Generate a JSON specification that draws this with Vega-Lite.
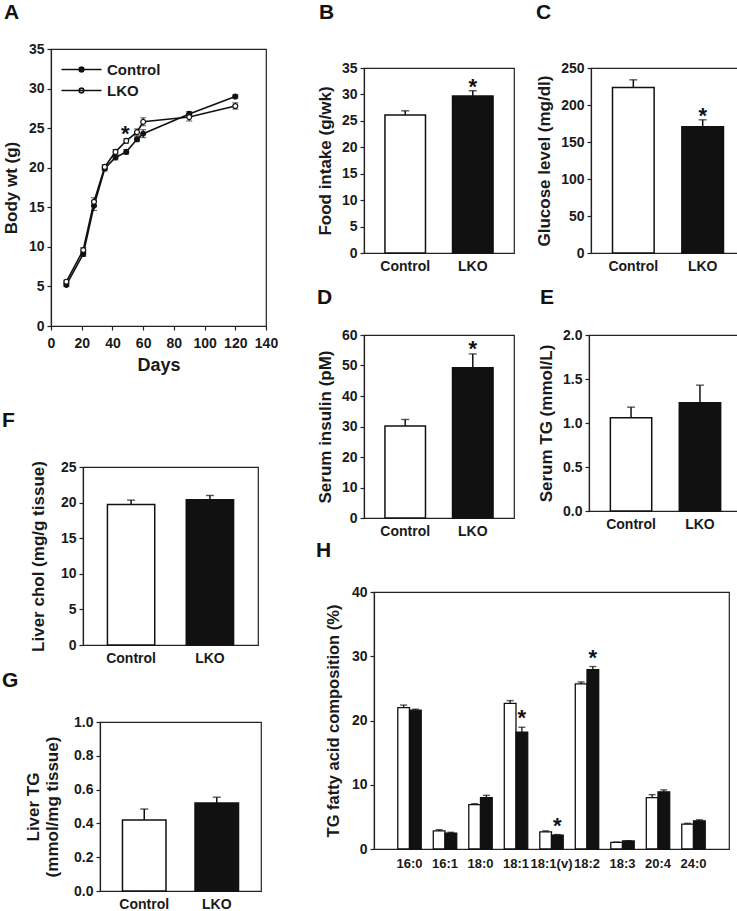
{
  "$schema": "https://vega.github.io/schema/vega-lite/v6.json",
  "background": "white",
  "padding": {"left": 0, "top": 0, "right": 0, "bottom": 0},
  "config": {
    "font": "Liberation Sans",
    "view": {"stroke": "#222", "strokeWidth": 1.2},
    "axis": {"grid": false, "domainColor": "#222", "domainWidth": 1.2, "tickColor": "#222", "tickWidth": 1.2, "tickSize": 4, "labelFont": "Liberation Sans", "labelFontSize": 14, "labelFontWeight": "bold", "labelColor": "#1a1a1a", "labelPadding": 3, "labelOverlap": false, "labelFlush": false, "labelBound": false, "titleFont": "Liberation Sans", "titleFontSize": 17, "titleFontWeight": "bold", "titleColor": "#1a1a1a", "titlePadding": 7},
    "title": {"font": "Liberation Sans", "fontSize": 21, "fontWeight": "bold", "color": "#111", "anchor": "start", "frame": "group"},
    "tick": {"thickness": 1.4}
  },
  "resolve": {"scale": {"fill": "independent"}, "legend": {"fill": "independent"}},
  "spacing": 35,
  "hconcat": [
    {
      "spacing": 0,
      "resolve": {"scale": {"fill": "independent"}, "legend": {"fill": "independent"}},
      "vconcat": [
        {"width": 0.01, "height": 0.01, "view": {"stroke": null}, "data": {"values": []}, "mark": "point"},
        {
          "spacing": 34,
          "resolve": {"scale": {"fill": "independent"}, "legend": {"fill": "independent"}},
          "vconcat": [
            {
              "spacing": 0,
              "resolve": {"scale": {"fill": "independent"}, "legend": {"fill": "independent"}},
              "hconcat": [
                {"width": 0.01, "height": 0.01, "view": {"stroke": null}, "data": {"values": []}, "mark": "point"},
                {
                  "width": 215, "height": 277,
                  "title": {"text": "A", "dx": -47, "offset": 19},
                  "data": {"values": [
                    {"day": 10, "group": "Control", "value": 5.2, "lo": 5.0, "hi": 5.4},
                    {"day": 21, "group": "Control", "value": 9.1, "lo": 8.8, "hi": 9.4},
                    {"day": 28, "group": "Control", "value": 15.2, "lo": 14.6, "hi": 15.8},
                    {"day": 35, "group": "Control", "value": 19.9, "lo": 19.6, "hi": 20.2},
                    {"day": 42, "group": "Control", "value": 21.3, "lo": 21.0, "hi": 21.6},
                    {"day": 49, "group": "Control", "value": 22.0, "lo": 21.7, "hi": 22.3},
                    {"day": 56, "group": "Control", "value": 23.6, "lo": 23.3, "hi": 23.9},
                    {"day": 60, "group": "Control", "value": 24.3, "lo": 23.8, "hi": 24.8},
                    {"day": 90, "group": "Control", "value": 26.8, "lo": 26.5, "hi": 27.1},
                    {"day": 120, "group": "Control", "value": 29.0, "lo": 28.8, "hi": 29.2},
                    {"day": 10, "group": "LKO", "value": 5.6, "lo": 5.4, "hi": 5.8},
                    {"day": 21, "group": "LKO", "value": 9.6, "lo": 9.3, "hi": 9.9},
                    {"day": 28, "group": "LKO", "value": 15.7, "lo": 15.2, "hi": 16.2},
                    {"day": 35, "group": "LKO", "value": 20.1, "lo": 19.8, "hi": 20.4},
                    {"day": 42, "group": "LKO", "value": 22.0, "lo": 21.7, "hi": 22.3},
                    {"day": 49, "group": "LKO", "value": 23.4, "lo": 23.1, "hi": 23.7, "star": "*"},
                    {"day": 56, "group": "LKO", "value": 24.5, "lo": 24.1, "hi": 24.9},
                    {"day": 60, "group": "LKO", "value": 25.8, "lo": 25.3, "hi": 26.3},
                    {"day": 90, "group": "LKO", "value": 26.4, "lo": 25.9, "hi": 26.9},
                    {"day": 120, "group": "LKO", "value": 27.8, "lo": 27.4, "hi": 28.2}
                  ]},
                  "encoding": {
                    "x": {"field": "day", "type": "quantitative", "scale": {"domain": [0, 140], "nice": false}, "axis": {"title": "Days", "titleFontSize": 18, "values": [0, 20, 40, 60, 80, 100, 120, 140], "labelPadding": 6, "titlePadding": 6}}
                  },
                  "layer": [
                    {"mark": {"type": "line", "color": "#111", "strokeWidth": 1.6},
                     "encoding": {"y": {"field": "value", "type": "quantitative", "scale": {"domain": [0, 35], "nice": false}, "axis": {"title": "Body wt (g)", "titlePadding": 8, "values": [0, 5, 10, 15, 20, 25, 30, 35]}}, "detail": {"field": "group"}}},
                    {"mark": {"type": "rule", "color": "#111", "strokeWidth": 1},
                     "encoding": {"y": {"field": "lo", "type": "quantitative", "axis": {"title": "Body wt (g)", "titlePadding": 8, "values": [0, 5, 10, 15, 20, 25, 30, 35]}}, "y2": {"field": "hi"}}},
                    {"mark": {"type": "tick", "orient": "horizontal", "color": "#111", "size": 6, "thickness": 1},
                     "encoding": {"y": {"field": "hi", "type": "quantitative", "axis": {"title": "Body wt (g)", "titlePadding": 8, "values": [0, 5, 10, 15, 20, 25, 30, 35]}}}},
                    {"mark": {"type": "tick", "orient": "horizontal", "color": "#111", "size": 6, "thickness": 1},
                     "encoding": {"y": {"field": "lo", "type": "quantitative", "axis": {"title": "Body wt (g)", "titlePadding": 8, "values": [0, 5, 10, 15, 20, 25, 30, 35]}}}},
                    {"mark": {"type": "point", "shape": "circle", "filled": true, "stroke": "#111", "strokeWidth": 1.2, "size": 24, "opacity": 1},
                     "encoding": {"y": {"field": "value", "type": "quantitative", "axis": {"title": "Body wt (g)", "titlePadding": 8, "values": [0, 5, 10, 15, 20, 25, 30, 35]}},
                       "fill": {"field": "group", "type": "nominal", "scale": {"domain": ["Control", "LKO"], "range": ["#111111", "#ffffff"]},
                         "legend": {"orient": "none", "legendX": 23, "legendY": 13, "title": null, "padding": 0,
                           "symbolType": "M-4,0L4,0M0.5,0L0.354,0.354L0,0.5L-0.354,0.354L-0.5,0L-0.354,-0.354L0,-0.5L0.354,-0.354Z",
                           "symbolSize": 100, "symbolStrokeColor": "#111", "symbolStrokeWidth": 1.6, "symbolOpacity": 1,
                           "labelFont": "Liberation Sans", "labelFontSize": 15, "labelFontWeight": "bold", "labelColor": "#1a1a1a", "labelOffset": 18, "rowPadding": 5}}}},
                    {"transform": [{"filter": "isValid(datum.star)"}],
                     "mark": {"type": "text", "fontSize": 22, "fontWeight": "bold", "color": "#111", "baseline": "alphabetic", "dy": 3, "dx": -1},
                     "encoding": {"y": {"field": "hi", "type": "quantitative", "axis": {"title": "Body wt (g)", "titlePadding": 8, "values": [0, 5, 10, 15, 20, 25, 30, 35]}}, "text": {"field": "star"}}}
                  ]
                }
              ]
            },
            {
              "spacing": 3,
              "vconcat": [
                {
                  "spacing": 0,
                  "hconcat": [
                    {"width": 0.01, "height": 0.01, "view": {"stroke": null}, "data": {"values": []}, "mark": "point"},
                    {
                      "width": 175, "height": 178,
                      "title": {"text": "F", "dx": -81, "offset": 29},
                      "data": {"values": [{"group": "Control", "value": 19.75, "upper": 20.35}, {"group": "LKO", "value": 20.4, "upper": 21.0}]},
                      "encoding": {"x": {"field": "group", "type": "nominal", "sort": ["Control", "LKO"], "scale": {"paddingInner": 0.4, "paddingOuter": 0.31}, "axis": {"title": null, "labelAngle": 0, "ticks": false, "labelPadding": 6}}},
                      "layer": [
                        {"mark": {"type": "bar", "stroke": "#111", "strokeWidth": 1.5},
                         "encoding": {"y": {"field": "value", "type": "quantitative", "scale": {"domain": [0, 25], "nice": false}, "axis": {"title": "Liver chol (mg/g tissue)", "titlePadding": 13, "values": [0, 5, 10, 15, 20, 25]}},
                           "color": {"field": "group", "type": "nominal", "scale": {"domain": ["Control", "LKO"], "range": ["#ffffff", "#111111"]}, "legend": null}}},
                        {"mark": {"type": "rule", "color": "#111", "strokeWidth": 1.5}, "encoding": {"y": {"field": "value", "type": "quantitative", "axis": {"title": "Liver chol (mg/g tissue)", "titlePadding": 13, "values": [0, 5, 10, 15, 20, 25]}}, "y2": {"field": "upper"}}},
                        {"mark": {"type": "tick", "color": "#111", "size": 8}, "encoding": {"y": {"field": "upper", "type": "quantitative", "axis": {"title": "Liver chol (mg/g tissue)", "titlePadding": 13, "values": [0, 5, 10, 15, 20, 25]}}}}
                      ]
                    }
                  ]
                },
                {
                  "spacing": 0,
                  "hconcat": [
                    {"width": 0.01, "height": 0.01, "view": {"stroke": null}, "data": {"values": []}, "mark": "point"},
                    {
                      "width": 161, "height": 169,
                      "title": {"text": "G", "dx": -98, "offset": 24},
                      "data": {"values": [{"group": "Control", "value": 0.42, "upper": 0.485}, {"group": "LKO", "value": 0.52, "upper": 0.555}]},
                      "encoding": {"x": {"field": "group", "type": "nominal", "sort": ["Control", "LKO"], "scale": {"paddingInner": 0.4, "paddingOuter": 0.31}, "axis": {"title": null, "labelAngle": 0, "ticks": false, "labelPadding": 6}}},
                      "layer": [
                        {"mark": {"type": "bar", "stroke": "#111", "strokeWidth": 1.5},
                         "encoding": {"y": {"field": "value", "type": "quantitative", "scale": {"domain": [0, 1], "nice": false}, "axis": {"title": ["Liver TG", "(mmol/mg tissue)"], "titlePadding": 12, "format": ".1f", "values": [0, 0.2, 0.4, 0.6, 0.8, 1.0]}},
                           "color": {"field": "group", "type": "nominal", "scale": {"domain": ["Control", "LKO"], "range": ["#ffffff", "#111111"]}, "legend": null}}},
                        {"mark": {"type": "rule", "color": "#111", "strokeWidth": 1.5}, "encoding": {"y": {"field": "value", "type": "quantitative", "axis": {"title": ["Liver TG", "(mmol/mg tissue)"], "titlePadding": 12, "format": ".1f", "values": [0, 0.2, 0.4, 0.6, 0.8, 1.0]}}, "y2": {"field": "upper"}}},
                        {"mark": {"type": "tick", "color": "#111", "size": 8}, "encoding": {"y": {"field": "upper", "type": "quantitative", "axis": {"title": ["Liver TG", "(mmol/mg tissue)"], "titlePadding": 12, "format": ".1f", "values": [0, 0.2, 0.4, 0.6, 0.8, 1.0]}}}}
                      ]
                    }
                  ]
                }
              ]
            }
          ]
        }
      ]
    },
    {
      "spacing": 0,
      "vconcat": [
        {"width": 0.01, "height": 0.01, "view": {"stroke": null}, "data": {"values": []}, "mark": "point"},
        {
          "spacing": 0,
          "vconcat": [
            {
              "spacing": 12,
              "vconcat": [
                {
                  "spacing": 20,
                  "hconcat": [
                    {
                      "spacing": 0,
                      "hconcat": [
                        {"width": 0.01, "height": 0.01, "view": {"stroke": null}, "data": {"values": []}, "mark": "point"},
                        {
                          "width": 150, "height": 185,
                          "title": {"text": "B", "dx": -45, "offset": 38},
                          "data": {"values": [{"group": "Control", "value": 26.1, "upper": 26.9}, {"group": "LKO", "value": 29.7, "upper": 30.7, "star": "*"}]},
                          "encoding": {"x": {"field": "group", "type": "nominal", "sort": ["Control", "LKO"], "scale": {"paddingInner": 0.4, "paddingOuter": 0.31}, "axis": {"title": null, "labelAngle": 0, "ticks": false, "labelPadding": 6}}},
                          "layer": [
                            {"mark": {"type": "bar", "stroke": "#111", "strokeWidth": 1.5},
                             "encoding": {"y": {"field": "value", "type": "quantitative", "scale": {"domain": [0, 35], "nice": false}, "axis": {"title": "Food intake (g/wk)", "values": [0, 5, 10, 15, 20, 25, 30, 35]}},
                               "color": {"field": "group", "type": "nominal", "scale": {"domain": ["Control", "LKO"], "range": ["#ffffff", "#111111"]}, "legend": null}}},
                            {"mark": {"type": "rule", "color": "#111", "strokeWidth": 1.5}, "encoding": {"y": {"field": "value", "type": "quantitative", "axis": {"title": "Food intake (g/wk)", "values": [0, 5, 10, 15, 20, 25, 30, 35]}}, "y2": {"field": "upper"}}},
                            {"mark": {"type": "tick", "color": "#111", "size": 8}, "encoding": {"y": {"field": "upper", "type": "quantitative", "axis": {"title": "Food intake (g/wk)", "values": [0, 5, 10, 15, 20, 25, 30, 35]}}}},
                            {"transform": [{"filter": "isValid(datum.star)"}],
                             "mark": {"type": "text", "fontSize": 22, "fontWeight": "bold", "color": "#111", "baseline": "alphabetic", "dy": 3},
                             "encoding": {"y": {"field": "upper", "type": "quantitative", "axis": {"title": "Food intake (g/wk)", "values": [0, 5, 10, 15, 20, 25, 30, 35]}}, "text": {"field": "star"}}}
                          ]
                        }
                      ]
                    },
                    {
                      "width": 154, "height": 185,
                      "title": {"text": "C", "dx": -55, "offset": 38},
                      "data": {"values": [{"group": "Control", "value": 223.5, "upper": 234}, {"group": "LKO", "value": 170.5, "upper": 180, "star": "*"}]},
                      "encoding": {"x": {"field": "group", "type": "nominal", "sort": ["Control", "LKO"], "scale": {"paddingInner": 0.4, "paddingOuter": 0.31}, "axis": {"title": null, "labelAngle": 0, "ticks": false, "labelPadding": 6}}},
                      "layer": [
                        {"mark": {"type": "bar", "stroke": "#111", "strokeWidth": 1.5},
                         "encoding": {"y": {"field": "value", "type": "quantitative", "scale": {"domain": [0, 250], "nice": false}, "axis": {"title": "Glucose level (mg/dl)", "values": [0, 50, 100, 150, 200, 250]}},
                           "color": {"field": "group", "type": "nominal", "scale": {"domain": ["Control", "LKO"], "range": ["#ffffff", "#111111"]}, "legend": null}}},
                        {"mark": {"type": "rule", "color": "#111", "strokeWidth": 1.5}, "encoding": {"y": {"field": "value", "type": "quantitative", "axis": {"title": "Glucose level (mg/dl)", "values": [0, 50, 100, 150, 200, 250]}}, "y2": {"field": "upper"}}},
                        {"mark": {"type": "tick", "color": "#111", "size": 8}, "encoding": {"y": {"field": "upper", "type": "quantitative", "axis": {"title": "Glucose level (mg/dl)", "values": [0, 50, 100, 150, 200, 250]}}}},
                        {"transform": [{"filter": "isValid(datum.star)"}],
                         "mark": {"type": "text", "fontSize": 22, "fontWeight": "bold", "color": "#111", "baseline": "alphabetic", "dy": 3},
                         "encoding": {"y": {"field": "upper", "type": "quantitative", "axis": {"title": "Glucose level (mg/dl)", "values": [0, 50, 100, 150, 200, 250]}}, "text": {"field": "star"}}}
                      ]
                    }
                  ]
                },
                {
                  "spacing": 21,
                  "hconcat": [
                    {
                      "spacing": 0,
                      "hconcat": [
                        {"width": 0.01, "height": 0.01, "view": {"stroke": null}, "data": {"values": []}, "mark": "point"},
                        {
                          "width": 150, "height": 183,
                          "title": {"text": "D", "dx": -47, "offset": 20},
                          "data": {"values": [{"group": "Control", "value": 30.2, "upper": 32.3}, {"group": "LKO", "value": 49.3, "upper": 53.8, "star": "*"}]},
                          "encoding": {"x": {"field": "group", "type": "nominal", "sort": ["Control", "LKO"], "scale": {"paddingInner": 0.4, "paddingOuter": 0.31}, "axis": {"title": null, "labelAngle": 0, "ticks": false, "labelPadding": 6}}},
                          "layer": [
                            {"mark": {"type": "bar", "stroke": "#111", "strokeWidth": 1.5},
                             "encoding": {"y": {"field": "value", "type": "quantitative", "scale": {"domain": [0, 60], "nice": false}, "axis": {"title": "Serum insulin (pM)", "values": [0, 10, 20, 30, 40, 50, 60]}},
                               "color": {"field": "group", "type": "nominal", "scale": {"domain": ["Control", "LKO"], "range": ["#ffffff", "#111111"]}, "legend": null}}},
                            {"mark": {"type": "rule", "color": "#111", "strokeWidth": 1.5}, "encoding": {"y": {"field": "value", "type": "quantitative", "axis": {"title": "Serum insulin (pM)", "values": [0, 10, 20, 30, 40, 50, 60]}}, "y2": {"field": "upper"}}},
                            {"mark": {"type": "tick", "color": "#111", "size": 8}, "encoding": {"y": {"field": "upper", "type": "quantitative", "axis": {"title": "Serum insulin (pM)", "values": [0, 10, 20, 30, 40, 50, 60]}}}},
                            {"transform": [{"filter": "isValid(datum.star)"}],
                             "mark": {"type": "text", "fontSize": 22, "fontWeight": "bold", "color": "#111", "baseline": "alphabetic", "dy": 2},
                             "encoding": {"y": {"field": "upper", "type": "quantitative", "axis": {"title": "Serum insulin (pM)", "values": [0, 10, 20, 30, 40, 50, 60]}}, "text": {"field": "star"}}}
                          ]
                        }
                      ]
                    },
                    {
                      "width": 153, "height": 176,
                      "title": {"text": "E", "dx": -49, "offset": 20},
                      "data": {"values": [{"group": "Control", "value": 1.06, "upper": 1.18}, {"group": "LKO", "value": 1.23, "upper": 1.43}]},
                      "encoding": {"x": {"field": "group", "type": "nominal", "sort": ["Control", "LKO"], "scale": {"paddingInner": 0.4, "paddingOuter": 0.31}, "axis": {"title": null, "labelAngle": 0, "ticks": false, "labelPadding": 6}}},
                      "layer": [
                        {"mark": {"type": "bar", "stroke": "#111", "strokeWidth": 1.5},
                         "encoding": {"y": {"field": "value", "type": "quantitative", "scale": {"domain": [0, 2], "nice": false}, "axis": {"title": "Serum TG (mmol/L)", "format": ".1f", "values": [0, 0.5, 1.0, 1.5, 2.0]}},
                           "color": {"field": "group", "type": "nominal", "scale": {"domain": ["Control", "LKO"], "range": ["#ffffff", "#111111"]}, "legend": null}}},
                        {"mark": {"type": "rule", "color": "#111", "strokeWidth": 1.5}, "encoding": {"y": {"field": "value", "type": "quantitative", "axis": {"title": "Serum TG (mmol/L)", "format": ".1f", "values": [0, 0.5, 1.0, 1.5, 2.0]}}, "y2": {"field": "upper"}}},
                        {"mark": {"type": "tick", "color": "#111", "size": 8}, "encoding": {"y": {"field": "upper", "type": "quantitative", "axis": {"title": "Serum TG (mmol/L)", "format": ".1f", "values": [0, 0.5, 1.0, 1.5, 2.0]}}}}
                      ]
                    }
                  ]
                }
              ]
            },
            {
              "spacing": 0,
              "hconcat": [
                {"width": 0.01, "height": 0.01, "view": {"stroke": null}, "data": {"values": []}, "mark": "point"},
                {
                  "width": 355, "height": 257,
                  "title": {"text": "H", "dx": -58, "offset": 24},
                  "data": {"values": [
                    {"fa": "16:0", "group": "Control", "value": 22.0, "upper": 22.4},
                    {"fa": "16:0", "group": "LKO", "value": 21.6, "upper": 21.75},
                    {"fa": "16:1", "group": "Control", "value": 2.82, "upper": 3.0},
                    {"fa": "16:1", "group": "LKO", "value": 2.45, "upper": 2.6},
                    {"fa": "18:0", "group": "Control", "value": 6.9, "upper": 7.05},
                    {"fa": "18:0", "group": "LKO", "value": 8.0, "upper": 8.35},
                    {"fa": "18:1", "group": "Control", "value": 22.66, "upper": 23.1},
                    {"fa": "18:1", "group": "LKO", "value": 18.2, "upper": 18.95, "star": "*"},
                    {"fa": "18:1(v)", "group": "Control", "value": 2.66, "upper": 2.82},
                    {"fa": "18:1(v)", "group": "LKO", "value": 2.14, "upper": 2.25, "star": "*"},
                    {"fa": "18:2", "group": "Control", "value": 25.7, "upper": 26.0},
                    {"fa": "18:2", "group": "LKO", "value": 27.9, "upper": 28.4, "star": "*"},
                    {"fa": "18:3", "group": "Control", "value": 1.04, "upper": 1.08},
                    {"fa": "18:3", "group": "LKO", "value": 1.25, "upper": 1.3},
                    {"fa": "20:4", "group": "Control", "value": 8.0, "upper": 8.46},
                    {"fa": "20:4", "group": "LKO", "value": 8.9, "upper": 9.2},
                    {"fa": "24:0", "group": "Control", "value": 3.86, "upper": 4.0},
                    {"fa": "24:0", "group": "LKO", "value": 4.39, "upper": 4.55}
                  ]},
                  "encoding": {
                    "x": {"field": "fa", "type": "nominal", "sort": ["16:0", "16:1", "18:0", "18:1", "18:1(v)", "18:2", "18:3", "20:4", "24:0"], "scale": {"paddingInner": 0.34, "paddingOuter": 0.67}, "axis": {"title": null, "labelAngle": 0, "ticks": false, "labelPadding": 8, "labelFontSize": 13}},
                    "xOffset": {"field": "group", "type": "nominal", "sort": ["Control", "LKO"], "scale": {"paddingInner": 0, "paddingOuter": 0}}
                  },
                  "layer": [
                    {"mark": {"type": "bar", "stroke": "#111", "strokeWidth": 1.3},
                     "encoding": {"y": {"field": "value", "type": "quantitative", "scale": {"domain": [0, 40], "nice": false}, "axis": {"title": "TG fatty acid composition (%)", "titleFontSize": 16.5, "titlePadding": 10, "values": [0, 10, 20, 30, 40]}},
                       "color": {"field": "group", "type": "nominal", "scale": {"domain": ["Control", "LKO"], "range": ["#ffffff", "#111111"]}, "legend": null}}},
                    {"mark": {"type": "rule", "color": "#111", "strokeWidth": 1.3}, "encoding": {"y": {"field": "value", "type": "quantitative", "axis": {"title": "TG fatty acid composition (%)", "titleFontSize": 16.5, "titlePadding": 10, "values": [0, 10, 20, 30, 40]}}, "y2": {"field": "upper"}}},
                    {"mark": {"type": "tick", "color": "#111", "size": 7}, "encoding": {"y": {"field": "upper", "type": "quantitative", "axis": {"title": "TG fatty acid composition (%)", "titleFontSize": 16.5, "titlePadding": 10, "values": [0, 10, 20, 30, 40]}}}},
                    {"transform": [{"filter": "isValid(datum.star)"}],
                     "mark": {"type": "text", "fontSize": 22, "fontWeight": "bold", "color": "#111", "baseline": "alphabetic", "dy": -2},
                     "encoding": {"y": {"field": "upper", "type": "quantitative", "axis": {"title": "TG fatty acid composition (%)", "titleFontSize": 16.5, "titlePadding": 10, "values": [0, 10, 20, 30, 40]}}, "text": {"field": "star"}}}
                  ]
                }
              ]
            }
          ]
        }
      ]
    }
  ]
}
